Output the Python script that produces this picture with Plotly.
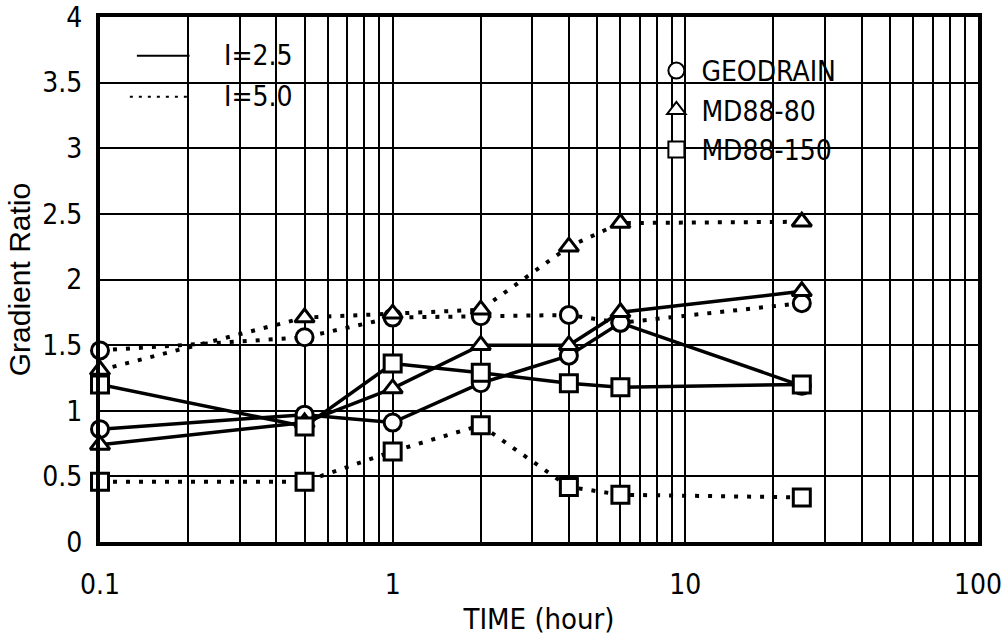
import plotly.graph_objects as go

# Elapsed test time (hours)
time_h = [0.1, 0.5, 1, 2, 4, 6, 25]

# Gradient ratio per geotextile, hydraulic gradient i = 2.5 and i = 5.0
geodrain_i25 = [0.86, 0.97, 0.91, 1.21, 1.42, 1.67, 1.19]
geodrain_i50 = [1.46, 1.56, 1.71, 1.72, 1.73, 1.67, 1.82]
md88_80_i25 = [0.74, 0.91, 1.17, 1.50, 1.50, 1.75, 1.91]
md88_80_i50 = [1.31, 1.71, 1.74, 1.77, 2.25, 2.43, 2.44]
md88_150_i25 = [1.20, 0.88, 1.36, 1.29, 1.21, 1.18, 1.20]
md88_150_i50 = [0.46, 0.46, 0.69, 0.89, 0.42, 0.36, 0.34]

materials = ["GEODRAIN", "MD88-80", "MD88-150"]
symbols = ["circle", "triangle-up", "square"]
gradients = ["I=2.5", "I=5.0"]

x_tickvals = [0.1, 1, 10, 100]
x_ticktext = ["0.1", "1", "10", "100"]
y_tickvals = [0, 0.5, 1, 1.5, 2, 2.5, 3, 3.5, 4]
y_ticktext = ["0", "0.5", "1", "1.5", "2", "2.5", "3", "3.5", "4"]

FONT = "Liberation Sans Narrow, DejaVu Sans Condensed, Liberation Sans, Arial"
TITLE_FONT = "Liberation Sans, Arial"
SOLID = dict(color="black", width=3.5)
DOTTED = dict(color="black", width=4, dash="4px,9px")

fig = go.Figure()

series = [
    (geodrain_i50, 0, DOTTED), (md88_80_i50, 1, DOTTED), (md88_150_i50, 2, DOTTED),
    (geodrain_i25, 0, SOLID), (md88_80_i25, 1, SOLID), (md88_150_i25, 2, SOLID),
]
for values, k, line in series:
    fig.add_trace(go.Scatter(
        x=time_h, y=values, mode="lines+markers", line=line,
        marker=dict(symbol=symbols[k], size=17, color="white",
                    line=dict(color="black", width=3)),
        showlegend=False, cliponaxis=False,
    ))

# Marker key (material)
for name, sym in zip(materials, symbols):
    fig.add_trace(go.Scatter(
        x=[None], y=[None], mode="markers", name=name, legend="legend2",
        marker=dict(symbol=sym, size=18, color="white",
                    line=dict(color="black", width=2)),
    ))

# Line-style key (hydraulic gradient)
key_rows = [(0.926, "solid", 0.042, gradients[0]), (0.848, "3px,6px", 0.034, gradients[1])]
for ypos, dash, x0, label in key_rows:
    fig.add_shape(type="line", xref="paper", yref="paper",
                  x0=x0, x1=0.102, y0=ypos, y1=ypos,
                  line=dict(color="black", width=2, dash=dash))
    fig.add_annotation(xref="paper", yref="paper", x=0.139, y=ypos,
                       xanchor="left", yanchor="middle", text=label,
                       showarrow=False, font=dict(family=FONT, size=28, color="black"))

axis_common = dict(
    showline=True, linecolor="black", linewidth=4, mirror=True,
    showgrid=True, gridcolor="black", gridwidth=2,
    ticks="", zeroline=False, automargin=False,
    tickfont=dict(family=FONT, size=28, color="black"),
)

fig.update_xaxes(
    type="log", range=[-1, 2], tickmode="array",
    tickvals=x_tickvals, ticktext=x_ticktext,
    minor=dict(dtick="D1", showgrid=True, gridcolor="black", gridwidth=2, ticks=""),
    ticklabelstandoff=14,
    title=dict(text="TIME (hour)", standoff=10,
               font=dict(family=FONT, size=29, color="black")),
    **axis_common,
)
fig.update_yaxes(
    range=[0, 4], tickmode="array", tickvals=y_tickvals, ticktext=y_ticktext,
    ticklabelstandoff=8,
    title=dict(text="Gradient Ratio", standoff=4,
               font=dict(family=TITLE_FONT, size=30, color="black")),
    **axis_common,
)

fig.update_layout(
    width=1003, height=638,
    margin=dict(l=100, r=25, t=17, b=96),
    paper_bgcolor="white", plot_bgcolor="white",
    legend2=dict(x=0.628, y=0.945, xanchor="left", yanchor="top",
                 bgcolor="rgba(0,0,0,0)", borderwidth=0,
                 font=dict(family=FONT, size=28, color="black"),
                 itemwidth=40, tracegroupgap=0),
)

fig.write_html("out.html")
